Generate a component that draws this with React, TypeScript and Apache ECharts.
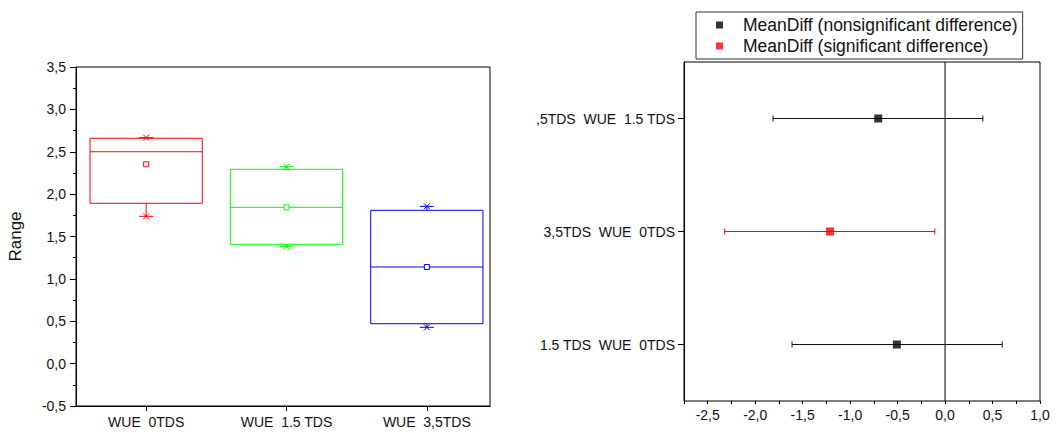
import React, { useEffect, useRef } from "react";
import * as echarts from "echarts";

// ---- Left panel: box chart ----
const boxCategories = ["WUE  0TDS", "WUE  1.5 TDS", "WUE  3,5TDS"];
const boxLow = [1.738, 1.38, 0.428];
const boxQ1 = [1.892, 1.408, 0.471];
const boxMedian = [2.5, 1.844, 1.14];
const boxQ3 = [2.659, 2.293, 1.809];
const boxHigh = [2.667, 2.324, 1.856];
const boxMean = [2.352, 1.844, 1.14];
const boxColors = ["#ff0000", "#00ff00", "#0000ff"];
const leftYTicks = [-0.5, 0, 0.5, 1, 1.5, 2, 2.5, 3, 3.5];

// ---- Right panel: mean differences ----
const diffLabels = ["1.5 TDS  WUE  0TDS", "3,5TDS  WUE  0TDS", ",5TDS  WUE  1.5 TDS"];
const diffMean = [-0.508, -1.212, -0.704];
const diffLower = [-1.612, -2.322, -1.812];
const diffUpper = [0.602, -0.108, 0.398];
const diffSignificant = [false, true, false];
const rightXTicks = [-2.5, -2, -1.5, -1, -0.5, 0, 0.5, 1];
const zeroLine = 0;

const FONT = "'Liberation Sans', Arial, Helvetica, sans-serif";
const fmtComma = (v: number) => v.toFixed(1).replace(".", ",");

export default function App() {
  const ref = useRef<HTMLDivElement>(null);

  useEffect(() => {
    if (!ref.current) return;
    const chart = echarts.init(ref.current, undefined, { renderer: "svg" });

    const boxData = boxCategories.map((_, i) => [
      i + 1,
      boxLow[i],
      boxQ1[i],
      boxMedian[i],
      boxQ3[i],
      boxHigh[i],
      boxMean[i],
    ]);

    const renderBox = (params: any, api: any) => {
      const i = params.dataIndex;
      const color = boxColors[i];
      const x = api.value(0);
      const half = api.size([0.8, 0])[0] / 2;
      const cx = api.coord([x, 0])[0];
      const yOf = (v: number) => api.coord([x, v])[1];
      const yLow = yOf(api.value(1));
      const yQ1 = yOf(api.value(2));
      const yMed = yOf(api.value(3));
      const yQ3 = yOf(api.value(4));
      const yHigh = yOf(api.value(5));
      const yMean = yOf(api.value(6));
      const ls = { stroke: color, lineWidth: 1, fill: "none" };
      const capW = 7;
      const xs = 3;
      const children: any[] = [
        { type: "rect", shape: { x: cx - half, y: yQ3, width: half * 2, height: yQ1 - yQ3 }, style: ls },
        { type: "line", shape: { x1: cx - half, y1: yMed, x2: cx + half, y2: yMed }, style: ls },
        { type: "line", shape: { x1: cx, y1: yQ1, x2: cx, y2: yLow }, style: ls },
        { type: "line", shape: { x1: cx, y1: yQ3, x2: cx, y2: yHigh }, style: ls },
        { type: "rect", shape: { x: cx - 2.5, y: yMean - 2.5, width: 5, height: 5 }, style: { stroke: color, lineWidth: 1, fill: "#fff" } },
      ];
      [yLow, yHigh].forEach((yy) => {
        children.push(
          { type: "line", shape: { x1: cx - capW, y1: yy, x2: cx + capW, y2: yy }, style: ls },
          { type: "line", shape: { x1: cx - xs, y1: yy - xs, x2: cx + xs, y2: yy + xs }, style: ls },
          { type: "line", shape: { x1: cx - xs, y1: yy + xs, x2: cx + xs, y2: yy - xs }, style: ls }
        );
      });
      return { type: "group", children };
    };

    const errData = diffLabels.map((_, i) => [diffLower[i], diffUpper[i], i, diffSignificant[i] ? 1 : 0]);
    const renderErr = (params: any, api: any) => {
      const idx = api.value(2);
      const sig = api.value(3) === 1;
      const color = sig ? "#ff0000" : "#111";
      const p1 = api.coord([api.value(0), idx]);
      const p2 = api.coord([api.value(1), idx]);
      const ls = { stroke: color, lineWidth: 1 };
      const h = 3;
      const children: any[] = [
        { type: "line", shape: { x1: p1[0], y1: p1[1], x2: p2[0], y2: p2[1] }, style: ls },
        { type: "line", shape: { x1: p1[0], y1: p1[1] - h, x2: p1[0], y2: p1[1] + h }, style: ls },
        { type: "line", shape: { x1: p2[0], y1: p2[1] - h, x2: p2[0], y2: p2[1] + h }, style: ls },
      ];
      if (params.dataIndex === 0) {
        const cs = params.coordSys;
        const zx = api.coord([zeroLine, idx])[0];
        children.push({
          type: "line",
          shape: { x1: zx, y1: cs.y, x2: zx, y2: cs.y + cs.height },
          style: { stroke: "#000", lineWidth: 1 },
        });
      }
      return { type: "group", children };
    };

    const nonSigName = "MeanDiff (nonsignificant difference)";
    const sigName = "MeanDiff (significant difference)";
    const nonSigData = diffLabels.map((_, i) => i).filter((i) => !diffSignificant[i]).map((i) => [diffMean[i], i]);
    const sigData = diffLabels.map((_, i) => i).filter((i) => diffSignificant[i]).map((i) => [diffMean[i], i]);

    const axisText = { color: "#111", fontSize: 14, fontFamily: FONT };

    chart.setOption({
      animation: false,
      backgroundColor: "#fff",
      textStyle: { fontFamily: FONT },
      grid: [
        { left: 76, top: 67, width: 414, height: 339, show: true, borderColor: "#000", borderWidth: 1, backgroundColor: "transparent" },
        { left: 684, top: 62, width: 356, height: 339, show: true, borderColor: "#000", borderWidth: 1, backgroundColor: "transparent" },
      ],
      legend: {
        data: [nonSigName, sigName],
        orient: "vertical",
        left: 696,
        top: 12,
        padding: [4, 5, 4, 20],
        itemGap: 3,
        itemWidth: 7,
        itemHeight: 7,
        icon: "rect",
        borderColor: "#333",
        borderWidth: 1,
        textStyle: { fontSize: 17.5, fontFamily: FONT, color: "#111", padding: [0, 0, 0, 15], lineHeight: 18 },
      },
      xAxis: [
        {
          gridIndex: 0,
          type: "value",
          min: 0.5,
          max: 3.45,
          interval: 0.5,
          splitLine: { show: false },
          axisLine: { onZero: false, lineStyle: { color: "#000" } },
          axisTick: { customValues: [1, 2, 3], length: 5, lineStyle: { color: "#000" } },
          axisLabel: {
            customValues: [1, 2, 3],
            formatter: (v: number) => boxCategories[Math.round(v) - 1] ?? "",
            margin: 9,
            ...axisText,
          },
        },
        {
          gridIndex: 1,
          type: "value",
          position: "bottom",
          min: -2.75,
          max: 1,
          interval: 0.25,
          splitLine: { show: false },
          axisLine: { onZero: false, lineStyle: { color: "#000" } },
          axisTick: { customValues: rightXTicks, length: 5, lineStyle: { color: "#000" } },
          axisLabel: { customValues: rightXTicks, formatter: (v: number) => fmtComma(v), margin: 7, ...axisText },
        },
        {
          gridIndex: 1,
          type: "value",
          position: "bottom",
          min: -2.75,
          max: 1,
          interval: 0.25,
          splitLine: { show: false },
          axisLine: { show: false, onZero: false },
          axisTick: { show: true, length: 3, lineStyle: { color: "#000" } },
          axisLabel: { show: false },
        },
      ],
      yAxis: [
        {
          gridIndex: 0,
          type: "value",
          min: -0.5,
          max: 3.5,
          interval: 0.5,
          name: "Range",
          nameLocation: "middle",
          nameGap: 52,
          nameTextStyle: { fontSize: 17, fontFamily: FONT, color: "#111" },
          splitLine: { show: false },
          axisLine: { show: true, onZero: false, lineStyle: { color: "#000" } },
          axisTick: { show: true, length: 6, lineStyle: { color: "#000" } },
          minorTick: { show: true, splitNumber: 2, length: 3, lineStyle: { color: "#000" } },
          axisLabel: { formatter: (v: number) => (leftYTicks.includes(v) ? fmtComma(v) : ""), margin: 10, ...axisText },
        },
        {
          gridIndex: 1,
          type: "category",
          data: diffLabels,
          boundaryGap: true,
          splitLine: { show: false },
          axisLine: { show: true, onZero: false, lineStyle: { color: "#000" } },
          axisTick: { show: true, alignWithLabel: true, length: 6, lineStyle: { color: "#000" } },
          axisLabel: { margin: 9, ...axisText },
        },
      ],
      series: [
        {
          type: "custom",
          name: "box",
          xAxisIndex: 0,
          yAxisIndex: 0,
          data: boxData,
          encode: { x: 0, y: [1, 2, 3, 4, 5, 6] },
          renderItem: renderBox,
          silent: true,
        },
        {
          type: "custom",
          name: "ci",
          xAxisIndex: 1,
          yAxisIndex: 1,
          data: errData,
          encode: { x: [0, 1], y: 2 },
          renderItem: renderErr,
          silent: true,
          z: 2,
        },
        {
          type: "scatter",
          name: nonSigName,
          xAxisIndex: 1,
          yAxisIndex: 1,
          data: nonSigData,
          symbol: "rect",
          symbolSize: 8,
          itemStyle: { color: "#000" },
          z: 5,
        },
        {
          type: "scatter",
          name: sigName,
          xAxisIndex: 1,
          yAxisIndex: 1,
          data: sigData,
          symbol: "rect",
          symbolSize: 8,
          itemStyle: { color: "#ff0000" },
          z: 5,
        },
      ],
    });

    return () => chart.dispose();
  }, []);

  return (
    <div
      ref={ref}
      style={{ position: "absolute", left: 0, top: 0, width: 1056, height: 433, background: "#fff" }}
    />
  );
}
